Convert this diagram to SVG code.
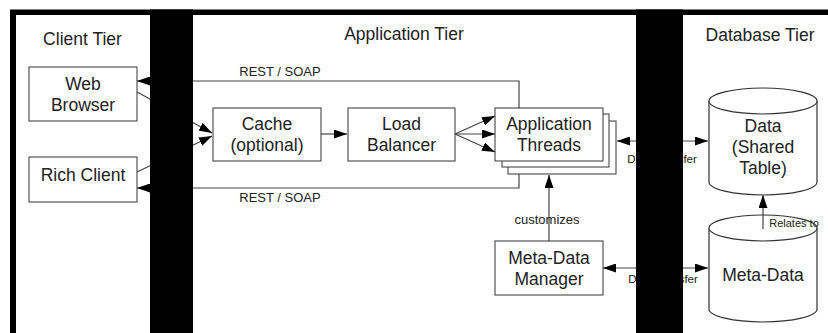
<svg xmlns="http://www.w3.org/2000/svg" width="828" height="333" viewBox="0 0 828 333">
<style>
text{font-family:"Liberation Sans",Arial,sans-serif;fill:#222;text-anchor:middle}
.t{font-size:17.5px}
.s{font-size:13px}
.xs{font-size:11.5px}
.box{fill:#fff;stroke:#555;stroke-width:1.2}
.cyl{fill:#fff;stroke:#333;stroke-width:1.2}
.ln{fill:none;stroke:#444;stroke-width:1.2}
</style>
<defs>
<marker id="ah" markerUnits="userSpaceOnUse" markerWidth="13" markerHeight="9" refX="13" refY="4.5" orient="auto-start-reverse" viewBox="0 0 13 9">
<path d="M0,0 L13,4.5 L0,9 z" fill="#000"/>
</marker>
</defs>
<rect x="0" y="0" width="828" height="333" fill="#fff"/>
<g id="frame">
<rect x="10" y="9.5" width="818" height="324" fill="#000"/>
<rect x="16" y="15" width="134" height="318" fill="#fff"/>
<rect x="193" y="15" width="443" height="318" fill="#fff"/>
<rect x="683" y="15" width="145" height="318" fill="#fff"/>
</g>
<g id="titles">
<text class="t" x="82.5" y="45">Client Tier</text>
<text class="t" x="404" y="40">Application Tier</text>
<text class="t" x="760" y="41">Database Tier</text>
</g>
<g id="web-browser">
<rect class="box" x="29" y="67" width="108" height="54"/>
<text class="t" x="83" y="90">Web</text>
<text class="t" x="83" y="111">Browser</text>
</g>
<g id="rich-client">
<rect class="box" x="29" y="157" width="108" height="45"/>
<text class="t" x="83" y="181">Rich Client</text>
</g>
<g id="cache">
<rect class="box" x="213" y="108" width="108" height="53"/>
<text class="t" x="267" y="130">Cache</text>
<text class="t" x="267" y="151">(optional)</text>
</g>
<g id="load-balancer">
<rect class="box" x="348" y="108" width="107" height="53"/>
<text class="t" x="401.5" y="130">Load</text>
<text class="t" x="401.5" y="151">Balancer</text>
</g>
<g id="application-threads">
<rect class="box" x="508" y="121" width="108" height="53"/>
<rect class="box" x="502" y="114" width="107" height="53"/>
<rect class="box" x="495" y="108" width="108" height="53"/>
<text class="t" x="549" y="130">Application</text>
<text class="t" x="549" y="151">Threads</text>
</g>
<g id="meta-data-manager">
<rect class="box" x="495" y="241" width="108" height="54"/>
<text class="t" x="549" y="264">Meta-Data</text>
<text class="t" x="549" y="285">Manager</text>
</g>
<g id="data">
<path class="cyl" d="M709,101 A54,13 0 0 1 817,101 L817,182 A54,13 0 0 1 709,182 Z"/>
<path class="cyl" d="M709,101 A54,13 0 0 0 817,101"/>
<text class="t" x="763" y="132">Data</text>
<text class="t" x="763" y="153">(Shared</text>
<text class="t" x="763" y="174">Table)</text>
</g>
<g id="meta-data">
<path class="cyl" d="M709,228 A54,13 0 0 1 817,228 L817,309 A54,13 0 0 1 709,309 Z"/>
<path class="cyl" d="M709,228 A54,13 0 0 0 817,228"/>
<text class="t" x="763" y="281">Meta-Data</text>
</g>
<g id="connectors">
<polyline class="ln" points="519,108 519,81 137,81" marker-end="url(#ah)"/>
<polyline class="ln" points="519,174 519,188 137,188" marker-end="url(#ah)"/>
<line class="ln" x1="137" y1="92" x2="212" y2="133" marker-end="url(#ah)"/>
<line class="ln" x1="137" y1="172" x2="212" y2="136" marker-end="url(#ah)"/>
<line class="ln" x1="321" y1="134" x2="347" y2="134" marker-end="url(#ah)"/>
<line class="ln" x1="455" y1="134" x2="495" y2="116" marker-end="url(#ah)"/>
<line class="ln" x1="455" y1="134" x2="495" y2="134" marker-end="url(#ah)"/>
<line class="ln" x1="455" y1="134" x2="495" y2="152" marker-end="url(#ah)"/>
<line class="ln" x1="549" y1="241" x2="549" y2="175" marker-end="url(#ah)"/>
<line class="ln" x1="617" y1="141" x2="708" y2="141" marker-start="url(#ah)" marker-end="url(#ah)"/>
<line class="ln" x1="603" y1="268" x2="708" y2="268" marker-start="url(#ah)" marker-end="url(#ah)"/>
<line class="ln" x1="763" y1="229" x2="763" y2="195" marker-end="url(#ah)"/>
<text class="s" x="280" y="76">REST / SOAP</text>
<text class="s" x="280" y="202">REST / SOAP</text>
<text class="s" x="547" y="224">customizes</text>
<text class="xs" x="662" y="163">Data Transfer</text>
<text class="xs" x="663" y="283">Data Transfer</text>
<text class="xs" x="794" y="227" style="font-size:11px">Relates to</text>
</g>
<g id="bars">
<rect x="150" y="9.5" width="43" height="324" fill="#000"/>
<rect x="636" y="9.5" width="47" height="324" fill="#000"/>
</g>
</svg>
